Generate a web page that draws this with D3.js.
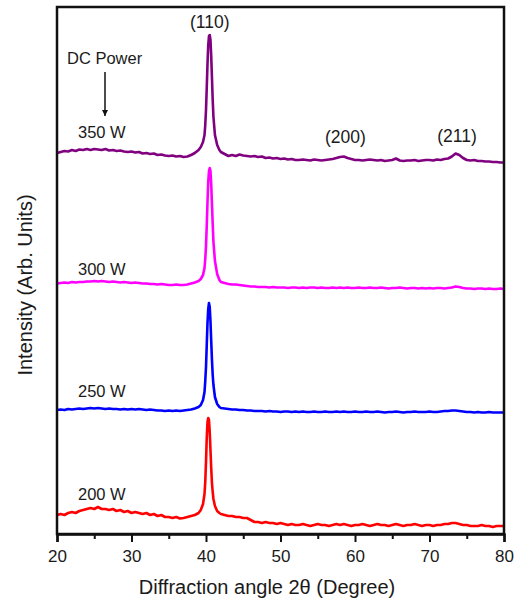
<!DOCTYPE html>
<html>
<head>
<meta charset="utf-8">
<script src="https://cdn.jsdelivr.net/npm/d3@7"></script>
<style>
  body { margin: 0; background: #fff; }
  text { font-family: "Liberation Sans", Arial, sans-serif; fill: #1a1a1a; }
</style>
</head>
<body>
<div id="chart"></div>
<script>
// 2theta values shared by all patterns
var angles = [
  20,20.5,21,21.5,22,22.5,23,23.5,24,24.5,
  25,25.5,26,26.5,27,27.5,28,28.5,29,29.5,
  30,30.5,31,31.5,32,32.5,33,33.5,34,34.5,
  35,35.5,36,36.5,37,37.5,38,38.5,
  39,39.3,39.6,39.8,39.9,40,40.1,40.2,40.3,40.4,
  40.5,40.6,40.7,40.8,40.9,41,41.2,41.5,41.8,42,
  42.5,43,43.5,44,44.5,45,45.5,46,46.5,47,
  47.5,48,48.5,49,49.5,50,50.5,51,51.5,52,
  52.5,53,53.5,54,54.5,55,55.5,56,56.5,57,
  57.5,58,58.5,59,59.5,60,60.5,61,61.5,62,
  62.5,63,63.5,64,64.5,65,65.5,66,66.5,67,
  67.5,68,68.5,69,69.5,70,70.5,71,71.5,72,
  72.5,73,73.5,74,74.5,75,75.5,76,76.5,77,
  77.5,78,78.5,79,79.5,80
];

var w200 = [
  19,20,19,21,22,21,23,24,25,26,
  25,27,25,25,24,25,23,24,22,23,
  21,22,21,20,21,19,20,18,19,17,
  17,16,17,15.5,16,17,18,19,
  21,24,30,40,52,72,96,112,116,114,
  102,84,66,51,42,35,28,23,21,20,
  19,18,18,17,17,16,16,14,12,12,
  11,12,11,11,10,11,10,9,10,9,
  9,10,9,8,9,10,9,9,8,9,
  10,9,10,9,8,9,9,10,9,8,
  9,10,9,9,8,9,10,9,8,9,
  9,10,9,8,9,9,8,9,9,10,
  10,11,11,10,9,9,8,8,8,9,
  8,8,7,8,8,8
];

var w250 = [
  19,19.5,19,20,19.5,20,20.5,20,20.5,21,
  20.5,21,20.5,20,20.5,20,20,19.5,20,19.5,
  20,19.5,20,19.5,19,19.5,19,18.5,18.5,18,
  18.5,18,18.5,18,18.5,19,19.5,20.5,
  22,24,29,37,48,62,84,106,120,126,
  122,108,88,69,54,44,32,25,22,21,
  20.5,20,19.5,19.5,19,19,18.5,18.5,18,18,
  18,17.5,18,17.5,17.5,17,17.5,17.5,17,17.5,
  17,17.5,17,17,17.5,17,17,17.5,17,17,
  17.5,17,17.5,17,17,17.5,17,17,17.5,17,
  17,17.5,17,16.5,17,17,17.5,17,16.5,17,
  17,17.5,17,17,17,17.5,17,17,17.5,18,
  18,18.5,18.5,18,17.5,17,17,16.5,17,16.5,
  16.5,17,16.5,16.5,16.5,16.5
];

var w300 = [
  20.5,21,21.5,21,22,21.5,22,22,22.5,22.5,
  23,22.5,23,22.5,22,22.5,22,21.5,22,21.5,
  21,21.5,21,20.5,20.5,20,20,19.5,20,19.5,
  19,19,19.5,19,19,19.5,20.5,21.5,
  23,25,29,36,45,58,78,102,122,133,
  136,133,120,100,80,62,43,30,24,22,
  21,20,19.5,19.5,19,18.5,18,17.5,17.5,17,
  17,17,16.5,17,16.5,16.5,16.5,16,16.5,16.5,
  16,16.5,16,16.5,16.5,16,16.5,16,16,16.5,
  16,16.5,16,16.5,16,16,16.5,16,16,16.5,
  16,16,16.5,16,15.5,16,16,16.5,16,15.5,
  16,16,15.5,16,15.5,16,15.5,16,16,15.5,
  16,16.5,17.5,17,16,15.5,15.5,15,15.5,15.5,
  15,15.5,15,15,15.5,15
];

var w350 = [
  19,20,21,20.5,22,21,22.5,22,23,22,
  23,22.5,22,23,21.5,22,21,21.5,20.5,20,
  20.5,19.5,20,18.5,19,18,18.5,17,17.5,16.5,
  16,16.5,15.5,16,15,15.5,17,19,
  22,25,30,37,47,62,84,108,127,136,
  137,132,116,94,72,55,37,27,22,20,
  18,16,17,16,17.5,16.5,16,15.5,16,15,
  15.5,14,14.5,13.5,14,13,13.5,12.5,13,12,
  12,12.5,12,11.5,12.5,12,11.5,12,12.5,13,
  14,15,15.5,14,13,12,12,11.5,12,12.5,
  12,11.5,12,11,11.5,12,13.5,11.5,11,11.5,
  11.5,12,11,11.5,12,12,11.5,12.5,12,13,
  13.5,15.5,18.5,17,14,12,11.5,12,11,11,
  10.5,10.5,10,10,9.5,9.5
];

var powers = ["200 W", "250 W", "300 W", "350 W"];
var offsets = [0, 105, 230, 362];
var colors = ["#ff0000", "#0000ff", "#ff00ff", "#800080"];
var patterns = [w200, w250, w300, w350];

var peakLabels = ["(110)", "(200)", "(211)"];
var peakAngles = [40.5, 58.7, 73.7];
var xTicks = [20, 30, 40, 50, 60, 70, 80];
var xMinor = [25, 35, 45, 55, 65, 75];

var width = 515, height = 599;
var margin = {top: 7, right: 11, bottom: 65, left: 57};
var plotW = width - margin.left - margin.right,
    plotH = height - margin.top - margin.bottom;

var svg = d3.select("#chart").append("svg")
    .attr("width", width)
    .attr("height", height);

var g = svg.append("g")
    .attr("transform", "translate(" + margin.left + "," + margin.top + ")");

var x = d3.scaleLinear().domain([20, 80]).range([0, plotW]);
var y = d3.scaleLinear().domain([0, 527]).range([plotH, 0]);

// traces
var line = d3.line()
    .x(function(d) { return x(d[0]); })
    .y(function(d) { return y(d[1]); });

patterns.forEach(function(vals, k) {
  var n = Math.min(vals.length, angles.length);
  var pts = [];
  for (var i = 0; i < n; i++) pts.push([angles[i], vals[i] + offsets[k]]);
  g.append("path")
      .datum(pts)
      .attr("fill", "none")
      .attr("stroke", colors[k])
      .attr("stroke-width", 2.6)
      .attr("stroke-linejoin", "round")
      .attr("d", line);
});

// power labels
var labelY = [500, 397, 275, 138];
powers.forEach(function(p, k) {
  svg.append("text")
      .attr("x", 78)
      .attr("y", labelY[k])
      .style("font-size", "16.5px")
      .text(p);
});

// peak labels
var peakY = [28, 143, 142];
peakLabels.forEach(function(t, k) {
  g.append("text")
      .attr("x", x(peakAngles[k]))
      .attr("y", peakY[k] - margin.top)
      .attr("text-anchor", "middle")
      .style("font-size", "17.5px")
      .text(t);
});

// DC power arrow
svg.append("defs").append("marker")
    .attr("id", "head")
    .attr("viewBox", "0 0 10 10")
    .attr("refX", 10).attr("refY", 5)
    .attr("markerWidth", 6).attr("markerHeight", 8)
    .attr("markerUnits", "userSpaceOnUse")
    .attr("orient", "auto")
  .append("path")
    .attr("d", "M0,0L10,5L0,10Z")
    .attr("fill", "#111");

svg.append("text")
    .attr("x", 67)
    .attr("y", 64)
    .style("font-size", "16.5px")
    .text("DC Power");

svg.append("line")
    .attr("x1", 105).attr("y1", 72)
    .attr("x2", 105).attr("y2", 116)
    .attr("stroke", "#111")
    .attr("stroke-width", 1.5)
    .attr("marker-end", "url(#head)");

// frame
g.append("rect")
    .attr("width", plotW)
    .attr("height", plotH)
    .attr("fill", "none")
    .attr("stroke", "#111")
    .attr("stroke-width", 2.5);

// x axis
var xAxis = d3.axisBottom(x)
    .tickValues(xTicks)
    .tickSize(8)
    .tickPadding(8)
    .tickFormat(d3.format("d"));

var ax = g.append("g")
    .attr("transform", "translate(0," + plotH + ")")
    .call(xAxis);
ax.select(".domain").attr("stroke", "#111").attr("stroke-width", 2.5);
ax.selectAll(".tick line").attr("stroke", "#111").attr("stroke-width", 2);
ax.selectAll(".tick text")
    .style("font-size", "17px")
    .style("font-family", "'Liberation Sans', Arial, sans-serif")
    .attr("fill", "#1a1a1a");

g.append("g")
    .attr("transform", "translate(0," + plotH + ")")
    .call(d3.axisBottom(x).tickValues(xMinor).tickSize(5).tickFormat(""))
  .call(function(s) {
    s.select(".domain").remove();
    s.selectAll(".tick line").attr("stroke", "#111").attr("stroke-width", 2);
  });

// axis titles
svg.append("text")
    .attr("x", 267)
    .attr("y", 594)
    .attr("text-anchor", "middle")
    .style("font-size", "20px")
    .text("Diffraction angle 2\u03b8 (Degree)");

svg.append("text")
    .attr("transform", "translate(32," + 285 + ") rotate(-90)")
    .attr("text-anchor", "middle")
    .style("font-size", "20px")
    .text("Intensity (Arb. Units)");
</script>
</body>
</html>
